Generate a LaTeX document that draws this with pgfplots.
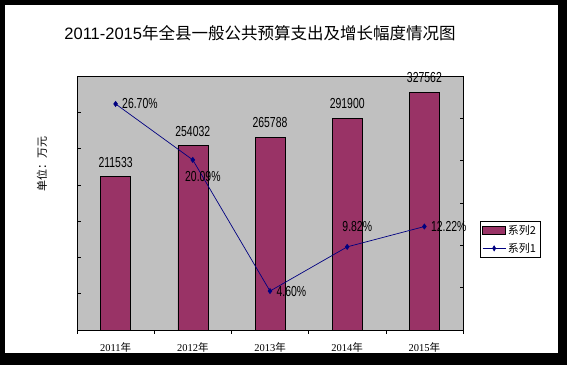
\documentclass[border=0pt]{standalone}
\usepackage{pgfplots}
\pgfplotsset{compat=1.18}
\usepackage{fontspec}
\setmainfont{Liberation Sans}
\newfontfamily\cjk{Noto Sans CJK SC}
\newfontfamily\serifd{Liberation Serif}
\definecolor{barcol}{HTML}{993366}
\definecolor{linecol}{HTML}{000080}
\definecolor{plotbg}{HTML}{C0C0C0}
\tikzset{lbl/.style={font=\fontsize{14.5}{14.5}\selectfont, xscale=0.72, text=black}}
\begin{document}
\begin{tikzpicture}[x=1pt,y=1pt]
\path[use as bounding box] (0,0) rectangle (567,365);
\fill[black] (0,0) rectangle (567,365);
\fill[white] (5,12) rectangle (558,360);
\node[font=\fontsize{16.5}{16.5}\selectfont] at (260,332) {2011-2015{\cjk 年全县一般公共预算支出及增长幅度情况图}};
\node[rotate=90, font=\fontsize{11}{11}\selectfont\cjk] at (42,201) {单位：万元};

\begin{axis}[at={(77pt,35pt)}, anchor=south west, scale only axis,
  width=386pt, height=254pt,
  axis background/.style={fill=plotbg},
  axis line style={black, line width=0.8pt},
  xmin=-0.5, xmax=4.5, ymin=0, ymax=350000,
  scaled y ticks=false,
  ytick={50000,100000,...,300000}, yticklabels={}, ytick pos=left,
  tick align=inside, major tick length=3.5pt,
  tick style={black, line width=0.6pt},
  xtick={-0.5,0.5,...,4.5}, x tick label as interval,
  xticklabels={{\serifd 2011\cjk 年},{\serifd 2012\cjk 年},{\serifd 2013\cjk 年},{\serifd 2014\cjk 年},{\serifd 2015\cjk 年}},
  xtick pos=bottom,
  xticklabel style={font=\fontsize{10.5}{10.5}\selectfont, yshift=-6pt},
  ybar, bar width=30pt,
  point meta=explicit symbolic,
  nodes near coords={\pgfplotspointmeta},
  nodes near coords style={lbl, inner sep=0pt, yshift=9pt},
  clip=false,
]
\addplot[fill=barcol, draw=black, line width=0.6pt] coordinates {
  (0,211533) [211533]
  (1,254032) [254032]
  (2,265788) [265788]
  (3,291900) [291900]
  (4,327562) [327562]
};
\end{axis}

\begin{axis}[at={(77pt,35pt)}, anchor=south west, scale only axis,
  width=386pt, height=254pt,
  xmin=-0.5, xmax=4.5, ymin=0, ymax=30,
  axis y line*=right, axis x line=none,
  axis line style={black, line width=0.8pt},
  ytick={5,10,...,25}, yticklabels={},
  tick align=inside, major tick length=3.5pt,
  tick style={black, line width=0.6pt},
  clip=false,
  legend style={at={(1.044,0.429)}, anchor=north west, draw=black, fill=white,
    font=\fontsize{11}{11}\selectfont\cjk, inner xsep=2pt, inner ysep=2pt,
    row sep=3pt, line width=0.6pt},
  legend cell align=left,
]
\addlegendimage{legend image code/.code={\draw[fill=barcol,draw=black,line width=0.6pt] (0pt,-4pt) rectangle (23pt,4pt);}}
\addlegendentry{系列2}
\addplot[linecol, line width=0.7pt, mark=diamond*, mark size=2.5pt, mark options={fill=linecol},
  legend image code/.code={\draw[linecol,line width=0.7pt] (0pt,0pt) -- (23pt,0pt); \fill[linecol] (11.5pt,2.5pt) -- (13pt,0pt) -- (11.5pt,-2.5pt) -- (10pt,0pt) -- cycle;}]
  coordinates {(0,26.70) (1,20.09) (2,4.60) (3,9.82) (4,12.22)};
\addlegendentry{系列1}
\begin{scope}[every node/.style={lbl, inner sep=0pt}]
\node[anchor=west, xshift=9pt] at (axis cs:0,26.70) {26.70\%};
\node[xshift=14pt, yshift=-17pt] at (axis cs:1,20.09) {20.09\%};
\node[anchor=west, xshift=9pt] at (axis cs:2,4.60) {4.60\%};
\node[xshift=14pt, yshift=20pt] at (axis cs:3,9.82) {9.82\%};
\node[anchor=west, xshift=9pt] at (axis cs:4,12.22) {12.22\%};
\end{scope}
\end{axis}
\end{tikzpicture}
\end{document}
